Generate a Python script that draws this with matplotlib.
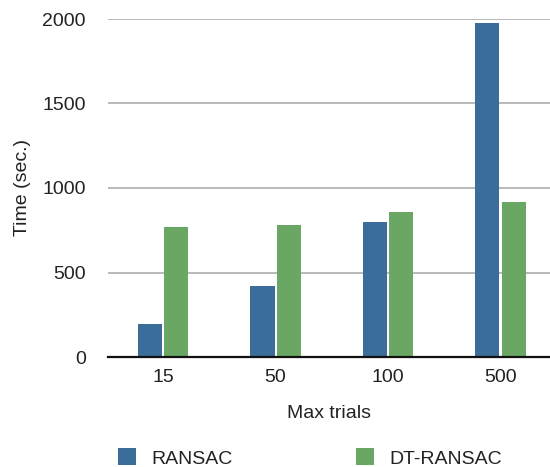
import matplotlib
matplotlib.use("Agg")
import matplotlib.pyplot as plt
import numpy as np

plt.rcParams['font.family'] = ['Liberation Sans', 'DejaVu Sans']

categories = ["15", "50", "100", "500"]
ransac = [195, 420, 798, 1975]
dt_ransac = [770, 780, 857, 915]
series_names = ["RANSAC", "DT-RANSAC"]
y_ticks = [0, 500, 1000, 1500, 2000]

blue = "#3b6d9b"
green = "#6aa664"

fig = plt.figure(figsize=(5.5, 4.67), dpi=100)
ax = fig.add_axes([108 / 550, 1 - 357 / 467, 1 - 108 / 550, (357 - 19) / 467])

x = np.arange(len(categories))
w = 0.215
off = 0.117
b1 = ax.bar(x - off, ransac, width=w, color=blue, label=series_names[0], zorder=3)
b2 = ax.bar(x + off, dt_ransac, width=w, color=green, label=series_names[1], zorder=3)

ax.set_xlim(-0.49, 3.44)
ax.set_ylim(0, 2000)
ax.set_yticks(y_ticks)
ax.set_xticks(x)
ax.set_xticklabels(categories)
ax.tick_params(axis='both', length=0, labelsize=14, colors='#222222')
ax.tick_params(axis='y', pad=16)
ax.tick_params(axis='x', pad=9)

ax.yaxis.grid(True, color='#b3b3b3', linewidth=1.3, zorder=0)
ax.set_axisbelow(True)
for s in ['top', 'right', 'left']:
    ax.spines[s].set_visible(False)
ax.spines['bottom'].set_color('#111111')
ax.spines['bottom'].set_linewidth(1.6)
ax.spines['bottom'].set_zorder(4)

ax.set_xlabel("Max trials", fontsize=14, color='#222222', labelpad=13)
ax.set_ylabel("Time (sec.)", fontsize=14, color='#222222', labelpad=8)

fig.legend(handles=[b1, b2], labels=series_names, loc='center',
           bbox_to_anchor=(310 / 550, 1 - 458 / 467), ncol=2, frameon=False,
           fontsize=14, handlelength=0.95, handleheight=0.95,
           handletextpad=0.8, columnspacing=6.3, borderpad=0,
           labelcolor='#222222')

fig.savefig("out.png", dpi=100)
